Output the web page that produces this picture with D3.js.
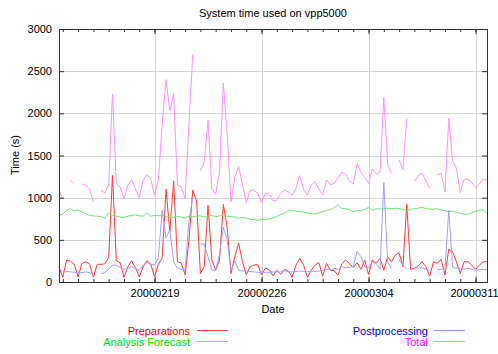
<!DOCTYPE html>
<html>
<head>
<meta charset="utf-8">
<script src="https://cdn.jsdelivr.net/npm/d3@7"></script>
<style>
body { margin: 0; background: #fff; }
text { font-family: "Liberation Sans", Arial, sans-serif; font-size: 11px; }
</style>
</head>
<body>
<div id="chart"></div>
<script>
// samples every 6 hours starting 2000-02-12 18:00 UTC
const startTime = Date.UTC(2000, 1, 12, 18);
const stepHours = 6;

const prepValues = [
  180, 55, 260, 245, 210, 60, 220, 240, 215, 55,
  210, 210, 215, 290, 1265, 250, 230, 55, 180, 250,
  170, 60, 180, 250, 215, 60, 210, 280, 1100, 600,
  1200, 240, 225, 85, 490, 1090, 960, 100, 180, 910,
  260, 140, 260, 920, 650, 100, 300, 460, 240, 85,
  180, 200, 210, 85, 165, 145, 75, 140, 90, 150,
  130, 55, 200, 280, 200, 55, 140, 200, 230, 70,
  220, 140, 135, 80, 215, 260, 220, 170, 230, 150,
  260, 90, 260, 220, 280, 140, 300, 240, 320, 345,
  180, 920, 150, 160, 190, 240, 180, 70, 240, 220,
  270, 80, 390, 360, 240, 100, 240, 240, 200, 150,
  200, 240, 240
];

const analysisValues = [
  795, 805, 850, 870, 840, 855, 830, 810, 790, 785,
  780, 775, 755, 820, 790, 780, 770, 765, 780, 790,
  795, 785, 780, 820, 780, 790, 785, 795, 775, 770,
  765, 775, 770, 760, 780, 775, 780, 785, 770, 780,
  790, 775, 785, 790, 780, 775, 770, 755, 765, 760,
  745, 740, 730, 745, 735, 750, 760, 775, 800, 815,
  850, 845, 840, 835, 830, 815, 810, 805, 820, 835,
  850, 860, 880, 920, 870, 870, 860, 835, 850, 845,
  860, 885, 850, 870, 865, 870, 875, 870, 875, 870,
  860, 845, 860, 870, 875, 885, 870, 865, 860, 870,
  855, 845, 835, 840, 825, 815, 805, 800, 820, 840,
  850, 855, 820
];

const postValues = [
  140, 130, 125, 120, 115, 110, 110, 120, 110, 100,
  null, 100, 110, 150, 200, 200, 170, 150, 160, 180,
  160, 140, 200, 230, 210, 200, 290, 850, 520, 620,
  240, 160, 150, 145, 720, 1000, null, 450, 450, 300,
  140, 140, 330, 650, 500, 140, 250, 140, 130, 130,
  125, 120, 115, 115, 110, 110, 120, 120, 120, 130,
  125, 120, 125, 130, 125, 120, 130, 125, 130, 140,
  150, 145, 160, 150, 180, 170, 175, 185, 360, 300,
  180, 170, 240, 220, 150, 1180, 240, 160, null, 260,
  200, 150, null, 180, 160, 170, 150, 140, null, 150,
  150, 160, 850, 170, 165, 160, 150, 165, 150, 140,
  145, 150, 145
];

const totalValues = [
  1090, 990, null, 1210, 1165, null, 1165, 1145, 1105, 950,
  null, 1090, 1055, 1150, 2230, 1165, 1125, 990, 1145, 1215,
  1105, 1000, 1205, 1275, 1225, 1030, 1205, 1870, 2400, 2030,
  2230, 1150, 1130, 990, 1870, 2700, null, 1320, 1420, 1920,
  1100, 1040, 1300, 2360, 1760, 950, 1240, 1370, 1160, 940,
  1090, 1090, 1050, 940, 1055, 1040, 960, 970, 1050, 1090,
  1070, 1030, 1110, 1260, 1100, 1030, 1150, 1190, 1100, 1030,
  1210, 1150, 1170, 1230, 1300, 1280, 1200, 1160, 1400, 1300,
  1240, 1170, 1340, 1280, 1300, 2190, 1400, 1290, null, 1450,
  1330, 1940, null, 1190, 1260, 1290, 1200, 1110, null, 1270,
  1290, 1070, 1940, 1430, 1350, 1060, 1220, 1220, 1180, 1120,
  1160, 1220, 1210
];

const dateTicks = ['20000219', '20000226', '20000304', '20000311'];
const timeTicks = [0, 500, 1000, 1500, 2000, 2500, 3000];

const series = [
  {name: 'Preparations', values: prepValues, color: '#ff3a3a', text: '#ff0000'},
  {name: 'Analysis Forecast', values: analysisValues, color: '#6aea6a', text: '#00dd00'},
  {name: 'Postprocessing', values: postValues, color: '#a0a0ff', text: '#0000ff'},
  {name: 'Total', values: totalValues, color: '#ff90ff', text: '#ff00ff'}
];

const margin = {top: 29, right: 11, bottom: 72, left: 59};
const width = 498 - margin.left - margin.right;
const height = 354 - margin.top - margin.bottom;

const svg = d3.select('#chart')
    .append('svg')
    .attr('width', 498)
    .attr('height', 354);

const g = svg.append('g')
    .attr('transform', `translate(${margin.left},${margin.top})`);

const times = prepValues.map((d, i) => new Date(startTime + i * stepHours * 3600e3));

const x = d3.scaleUtc()
    .domain([times[0], times[times.length - 1]])
    .range([0, width]);

const y = d3.scaleLinear()
    .domain([0, 3000])
    .range([height, 0]);

const parseDay = d3.utcParse('%Y%m%d');
const majorDates = dateTicks.map(parseDay);
const minorDates = d3.utcDay.range(d3.utcDay.ceil(x.domain()[0]), x.domain()[1]);

// grid
g.append('g')
    .selectAll('line.hgrid')
    .data(timeTicks.slice(1, -1))
    .join('line')
    .attr('x1', 0)
    .attr('x2', width)
    .attr('y1', d => Math.round(y(d)) + 0.5)
    .attr('y2', d => Math.round(y(d)) + 0.5)
    .attr('stroke', '#d6d6d6');

g.append('g')
    .selectAll('line.vgrid')
    .data(majorDates)
    .join('line')
    .attr('x1', d => Math.round(x(d)) + 0.5)
    .attr('x2', d => Math.round(x(d)) + 0.5)
    .attr('y1', 0)
    .attr('y2', height)
    .attr('stroke', '#d6d6d6');

// data lines
series.forEach(s => {
  const line = d3.line()
      .defined(d => d != null)
      .x((d, i) => x(times[i]))
      .y(d => y(d));
  g.append('path')
      .datum(s.values)
      .attr('fill', 'none')
      .attr('stroke', s.color)
      .attr('stroke-width', 1)
      .attr('d', line);
});

// border
g.append('rect')
    .attr('x', 0.5)
    .attr('y', 0.5)
    .attr('width', width)
    .attr('height', height)
    .attr('fill', 'none')
    .attr('stroke', '#333');

// axes (ticks point inward, mirrored)
g.append('g')
    .attr('class', 'x-major')
    .attr('transform', `translate(0,${height})`)
    .call(d3.axisBottom(x).tickValues(majorDates).tickSizeInner(-5).tickSizeOuter(0)
        .tickPadding(7).tickFormat(d3.utcFormat('%Y%m%d')));

g.append('g')
    .attr('transform', `translate(0,${height})`)
    .call(d3.axisBottom(x).tickValues(minorDates).tickSizeInner(-3).tickSizeOuter(0).tickFormat(''));

g.append('g')
    .call(d3.axisTop(x).tickValues(majorDates).tickSizeInner(-5).tickSizeOuter(0).tickFormat(''));

g.append('g')
    .call(d3.axisTop(x).tickValues(minorDates).tickSizeInner(-3).tickSizeOuter(0).tickFormat(''));

g.append('g')
    .call(d3.axisLeft(y).tickValues(timeTicks).tickSizeInner(-5).tickSizeOuter(0)
        .tickPadding(7).tickFormat(d3.format('d')));

g.append('g')
    .attr('transform', `translate(${width},0)`)
    .call(d3.axisRight(y).tickValues(timeTicks).tickSizeInner(-5).tickSizeOuter(0).tickFormat(''));

g.selectAll('.domain').remove();
g.selectAll('.tick line').attr('stroke', '#333');
g.selectAll('.tick text').attr('fill', '#000').style('font-size', '11px')
    .style('font-family', '"Liberation Sans", Arial, sans-serif');

// keep the last date label inside the picture
g.selectAll('.x-major .tick text')
    .filter((d, i, nodes) => i === nodes.length - 1)
    .attr('dx', -1.5);

// titles
svg.append('text')
    .attr('x', margin.left + width / 2)
    .attr('y', 17)
    .attr('text-anchor', 'middle')
    .text('System time used on vpp5000');

svg.append('text')
    .attr('x', margin.left + width / 2)
    .attr('y', 313)
    .attr('text-anchor', 'middle')
    .text('Date');

svg.append('text')
    .attr('transform', 'translate(19,155) rotate(-90)')
    .attr('text-anchor', 'middle')
    .text('Time (s)');

// legend, two columns
const legendPos = [
  {tx: 190, ty: 335, lx: 197},
  {tx: 190, ty: 346, lx: 197},
  {tx: 428, ty: 335, lx: 434},
  {tx: 428, ty: 346, lx: 434}
];

series.forEach((s, i) => {
  const p = legendPos[i];
  svg.append('text')
      .attr('x', p.tx)
      .attr('y', p.ty)
      .attr('text-anchor', 'end')
      .attr('fill', s.text)
      .text(s.name);
  svg.append('line')
      .attr('x1', p.lx)
      .attr('x2', p.lx + 31)
      .attr('y1', p.ty - 4.5)
      .attr('y2', p.ty - 4.5)
      .attr('stroke', s.color);
});
</script>
</body>
</html>
